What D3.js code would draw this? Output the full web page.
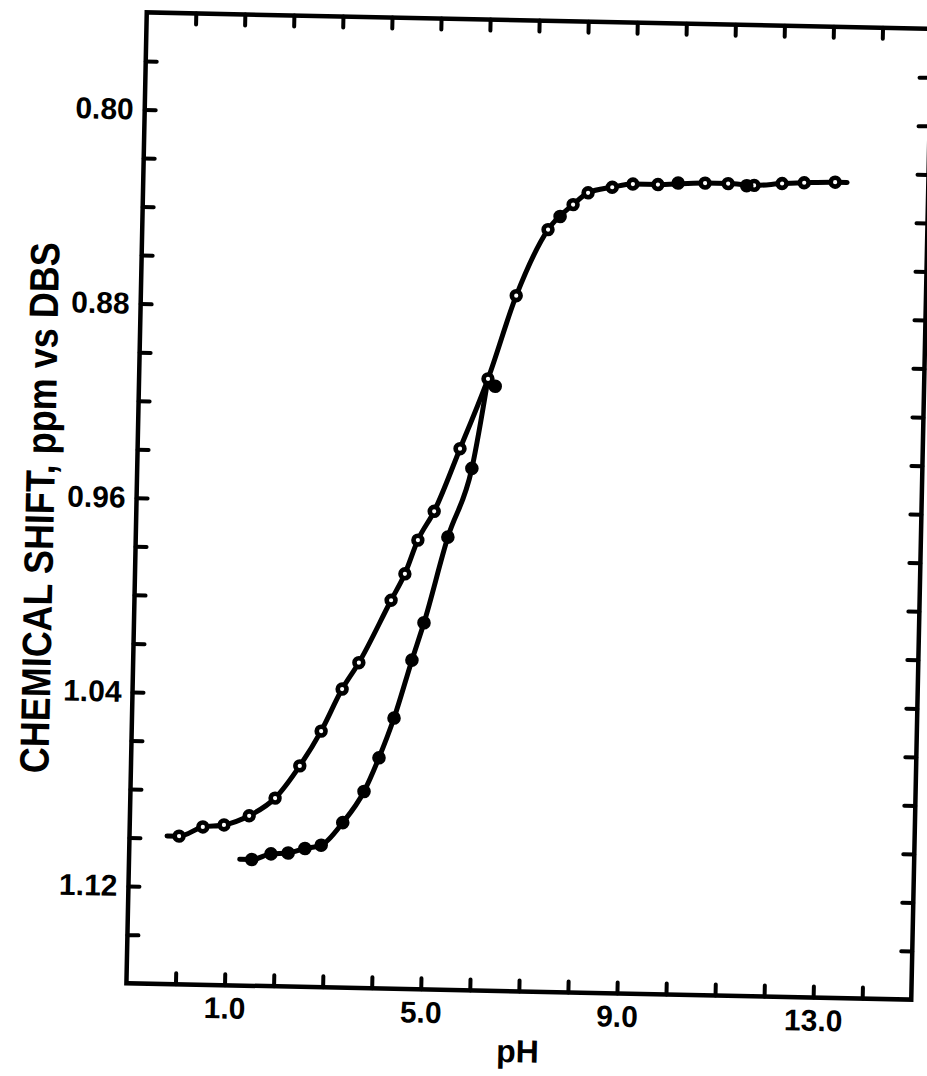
<!DOCTYPE html>
<html>
<head>
<meta charset="utf-8">
<script src="https://cdn.jsdelivr.net/npm/d3@7"></script>
<style>
  html, body { margin: 0; padding: 0; background: #fff; }
  svg { display: block; }
  text { font-family: "Liberation Sans", Arial, sans-serif; font-weight: bold; fill: #000; }
</style>
</head>
<body>
<svg id="chart" width="927" height="1076"></svg>
<script>
// Chemical shift (ppm vs DBS) as a function of pH, two titration curves.

// open-circle curve
const openPH    = [0.01, 0.49, 0.92, 1.43, 1.95, 2.44, 2.86, 3.27, 3.60, 4.23, 4.50, 4.75, 5.07, 5.57,
                   6.11, 6.65, 7.27, 7.77, 8.07, 8.56, 8.98, 9.49, 10.45, 10.92, 11.45, 12.02, 12.47, 13.10];
const openShift = [1.099, 1.095, 1.094, 1.090, 1.0825, 1.069, 1.0545, 1.037, 1.026, 1.000, 0.989, 0.975, 0.963, 0.937,
                   0.908, 0.8735, 0.846, 0.8355, 0.8305, 0.828, 0.8265, 0.8265, 0.8255, 0.8255, 0.826, 0.825, 0.8245, 0.824];

// filled-circle curve: rising part, then points lying on the common upper branch
const filledRisePH    = [1.50, 1.89, 2.24, 2.58, 2.91, 3.34, 3.76, 4.05, 4.34, 4.68, 4.91, 5.36, 5.82, 6.26];
const filledRiseShift = [1.108, 1.1055, 1.105, 1.103, 1.1015, 1.092, 1.079, 1.065, 1.0485, 1.0245, 1.009, 0.9735, 0.945, 0.911];
const filledUpperPH    = [7.51, 9.90, 11.30];
const filledUpperShift = [0.8405, 0.8257, 0.8262];
const filledJoinPH = 6.11;   // open-curve point where the filled curve runs into it

// axes
const phDomain = [-1, 15];
const shiftDomain = [0.76, 1.16];
const phTicks = [0, 1, 2, 3, 4, 5, 6, 7, 8, 9, 10, 11, 12, 13, 14];
const phTickLabels = { 1: "1.0", 5: "5.0", 9: "9.0", 13: "13.0" };
const shiftTicks = [0.78, 0.80, 0.82, 0.84, 0.86, 0.88, 0.90, 0.92, 0.94, 0.96, 0.98, 1.00,
                    1.02, 1.04, 1.06, 1.08, 1.10, 1.12, 1.14];
const shiftTickLabels = { "0.80": "0.80", "0.88": "0.88", "0.96": "0.96", "1.04": "1.04", "1.12": "1.12" };
const xTitle = "pH";
const yTitle = "CHEMICAL  SHIFT, ppm vs DBS";

// layout
const frame = { left: 136.5, top: 20.5, width: 785, height: 971 };
const tilt = 1.2;
const tickLen = 11;
const ink = "#000";

const svg = d3.select("#chart");
const cx = frame.left + frame.width / 2, cy = frame.top + frame.height / 2;
const g = svg.append("g").attr("transform", `rotate(${tilt},${cx},${cy})`);

const x = d3.scaleLinear().domain(phDomain).range([frame.left, frame.left + frame.width]);
const y = d3.scaleLinear().domain(shiftDomain).range([frame.top, frame.top + frame.height]);

function styleAxis(sel) {
  sel.select(".domain").remove();
  sel.selectAll(".tick line").attr("stroke", ink).attr("stroke-width", 4).attr("stroke-linecap", "round");
  sel.selectAll(".tick text").attr("font-size", 30).attr("fill", ink)
     .attr("font-family", '"Liberation Sans", Arial, sans-serif').attr("font-weight", "bold");
}

g.append("g").attr("transform", `translate(0,${frame.top + frame.height})`)
  .call(d3.axisBottom(x).tickValues(phTicks).tickSize(-tickLen).tickPadding(12)
        .tickFormat(v => phTickLabels[v] || ""))
  .call(styleAxis);
g.append("g").attr("transform", `translate(0,${frame.top})`)
  .call(d3.axisTop(x).tickValues(phTicks).tickSize(-tickLen).tickFormat(() => ""))
  .call(styleAxis);
g.append("g").attr("transform", `translate(${frame.left},0)`)
  .call(d3.axisLeft(y).tickValues(shiftTicks).tickSize(-tickLen).tickPadding(11)
        .tickFormat(v => shiftTickLabels[v.toFixed(2)] || ""))
  .call(styleAxis);
g.append("g").attr("transform", `translate(${frame.left + frame.width},0)`)
  .call(d3.axisRight(y).tickValues(shiftTicks).tickSize(-tickLen).tickFormat(() => ""))
  .call(styleAxis);

g.append("rect")
  .attr("x", frame.left).attr("y", frame.top)
  .attr("width", frame.width).attr("height", frame.height)
  .attr("fill", "none").attr("stroke", ink).attr("stroke-width", 4.5);

// axis titles
g.append("text")
  .attr("x", x((phDomain[0] + phDomain[1]) / 2)).attr("y", frame.top + frame.height + 71)
  .attr("text-anchor", "middle").attr("font-size", 32)
  .text(xTitle);
g.append("text")
  .attr("transform", `translate(54,${cy + 12}) rotate(-90)`)
  .attr("text-anchor", "middle").attr("font-size", 41)
  .attr("textLength", 531).attr("lengthAdjust", "spacingAndGlyphs")
  .text(yTitle);

// curves
const lead = 12;
const line = d3.line().curve(d3.curveMonotoneX);

const openPts = openPH.map((p, i) => [x(p), y(openShift[i])]);
const openPath = [[openPts[0][0] - lead, openPts[0][1]], ...openPts,
                  [openPts[openPts.length - 1][0] + lead, openPts[openPts.length - 1][1]]];

const joinIdx = openPH.indexOf(filledJoinPH);
const filledPts = filledRisePH.map((p, i) => [p, filledRiseShift[i]])
  .filter(d => d[0] < filledJoinPH)
  .map(d => [x(d[0]), y(d[1])]);
const filledPath = [[filledPts[0][0] - lead, filledPts[0][1]], ...filledPts,
                    [x(openPH[joinIdx]), y(openShift[joinIdx])]];

g.append("path").attr("d", line(filledPath))
  .attr("fill", "none").attr("stroke", ink).attr("stroke-width", 5)
  .attr("stroke-linecap", "round").attr("stroke-linejoin", "round");
g.append("path").attr("d", line(openPath))
  .attr("fill", "none").attr("stroke", ink).attr("stroke-width", 5)
  .attr("stroke-linecap", "round").attr("stroke-linejoin", "round");

// markers
g.append("g").selectAll("circle").data(openPH.map((p, i) => [p, openShift[i]])).join("circle")
  .attr("cx", d => x(d[0])).attr("cy", d => y(d[1])).attr("r", 4.4)
  .attr("fill", "#fff").attr("stroke", ink).attr("stroke-width", 4.6);

const filledAll = filledRisePH.map((p, i) => [p, filledRiseShift[i]])
  .concat(filledUpperPH.map((p, i) => [p, filledUpperShift[i]]));
g.append("g").selectAll("circle").data(filledAll).join("circle")
  .attr("cx", d => x(d[0])).attr("cy", d => y(d[1])).attr("r", 6.8)
  .attr("fill", ink);
</script>
</body>
</html>
